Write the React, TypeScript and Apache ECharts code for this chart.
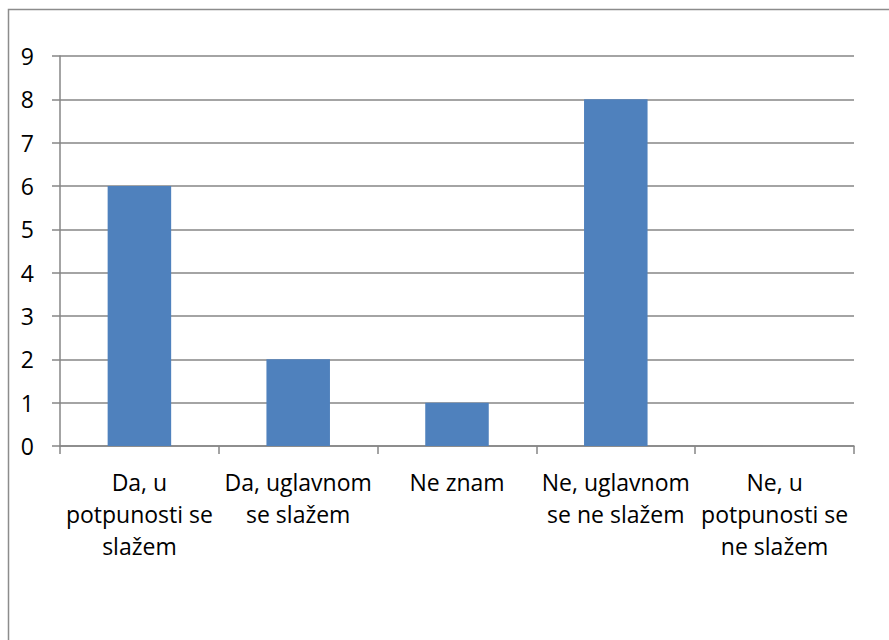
import React, { useEffect, useRef } from "react";
import * as echarts from "echarts";

const categories = [
  "Da, u\npotpunosti se\nslažem",
  "Da, uglavnom\nse slažem",
  "Ne znam",
  "Ne, uglavnom\nse ne slažem",
  "Ne, u\npotpunosti se\nne slažem",
];
const values = [6, 2, 1, 8, 0];
const yTicks = { min: 0, max: 9, interval: 1 };

export default function App() {
  const ref = useRef<HTMLDivElement>(null);
  useEffect(() => {
    const chart = echarts.init(ref.current!, null, { renderer: "svg" });
    const lineColor = "#868686";
    const font = "'Open Sans', sans-serif";
    chart.setOption({
      animation: false,
      backgroundColor: "#ffffff",
      graphic: [
        {
          type: "rect",
          shape: { x: 8.5, y: 9.5, width: 1000, height: 1000 },
          style: { fill: "none", stroke: "#8c8c8c", lineWidth: 1.5 },
          silent: true,
        },
      ],
      grid: { left: 60, top: 56, right: 35, bottom: 194 },
      xAxis: {
        type: "category",
        data: categories,
        axisLine: { show: true, lineStyle: { color: lineColor, width: 1.5 } },
        axisTick: { show: true, length: 8, lineStyle: { color: lineColor, width: 1.5 } },
        axisLabel: {
          interval: 0,
          color: "#000000",
          fontFamily: font,
          fontSize: 23,
          lineHeight: 32,
          margin: 20,
        },
      },
      yAxis: {
        type: "value",
        min: yTicks.min,
        max: yTicks.max,
        interval: yTicks.interval,
        axisLine: { show: true, lineStyle: { color: lineColor, width: 1.5 } },
        axisTick: { show: true, length: 8, lineStyle: { color: lineColor, width: 1.5 } },
        splitLine: { show: true, lineStyle: { color: lineColor, width: 1.5 } },
        axisLabel: {
          color: "#000000",
          fontFamily: font,
          fontSize: 23,
          margin: 26,
        },
      },
      series: [
        {
          type: "bar",
          data: values,
          barCategoryGap: "60%",
          itemStyle: { color: "#4F81BD" },
        },
      ],
    });
    return () => chart.dispose();
  }, []);
  return (
    <div
      ref={ref}
      style={{ position: "absolute", left: 0, top: 0, width: 889, height: 640 }}
    />
  );
}
